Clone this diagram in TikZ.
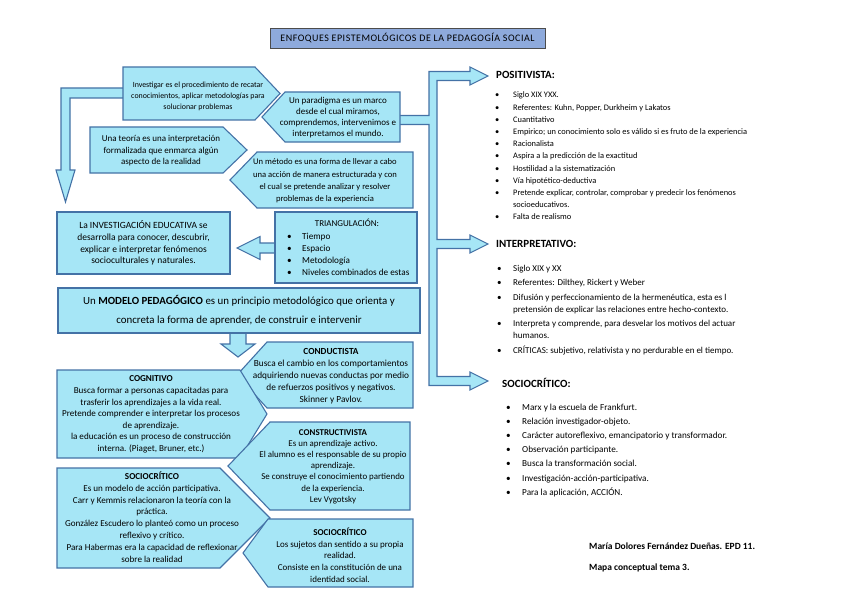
\documentclass[tikz,border=0pt]{standalone}
\usepackage{fontspec}
\setmainfont{Carlito}
\usetikzlibrary{positioning}
\definecolor{boxfill}{RGB}{166,230,246}
\definecolor{boxline}{RGB}{68,114,166}
\definecolor{titlefill}{RGB}{142,170,220}
\tikzset{
    shapebox/.style = {
        draw=boxline,
        fill=boxfill,
        line width=1.1pt,
        line join=miter
    },
    titlebox/.style = {
        draw=black!70,
        fill=titlefill,
        line width=0.6pt,
        minimum width=275pt,
        minimum height=20pt,
        font=\fontsize{10}{11}\selectfont\addfontfeature{LetterSpace=5}
    },
    txt/.style = {
        align=center,
        inner sep=0pt,
        font=\fontsize{9}{11.6}\selectfont
    },
    head/.style = {
        anchor=west,
        inner sep=0pt,
        font=\fontsize{11}{12}\selectfont\bfseries
    },
    list/.style = {
        anchor=base west,
        inner sep=0pt,
        font=\fontsize{8.4}{12.2}\selectfont
    },
}
\newcommand{\pentright}[6]{%
    \draw[shapebox] (#2,#3) -- (#4,#3) -- (#6,{(#3+#5)/2}) -- (#4,#5) -- (#2,#5) -- cycle;
    \coordinate (#1) at (#6,{(#3+#5)/2});
}
\newcommand{\pentleft}[6]{%
    \draw[shapebox] (#2,#3) -- (#4,#3) -- (#4,#5) -- (#2,#5) -- (#6,{(#3+#5)/2}) -- cycle;
    \coordinate (#1) at (#6,{(#3+#5)/2});
}

\begin{document}
\begin{tikzpicture}[x=1pt, y=-1pt]
    \useasboundingbox (0,0) rectangle (848,599);

    \node[titlebox] (title) at (407.5,38) {ENFOQUES EPISTEMOLÓGICOS DE LA PEDAGOGÍA SOCIAL};

    % flechas de bloque
    \draw[shapebox] (128,88) -- (61,88) -- (61,170) -- (56,170) -- (65.5,202) -- (75,170)
        -- (70,170) -- (70,98) -- (128,98) -- cycle;
    \draw[shapebox] (429,71.5) -- (470,71.5) -- (470,67) -- (488,76) -- (470,85) -- (470,80.5)
        -- (437,80.5) -- (437,239.5) -- (470,239.5) -- (470,235) -- (488,244) -- (470,253)
        -- (470,248.5) -- (437,248.5) -- (437,376.5) -- (470,376.5) -- (470,372) -- (488,381)
        -- (470,390) -- (470,385.5) -- (429,385.5) -- (429,124.5) -- (395,124.5) -- (395,115.5)
        -- (429,115.5) -- cycle;
    \draw[shapebox] (280,243) -- (260,243) -- (260,236.5) -- (237,248) -- (260,259.5)
        -- (260,253) -- (280,253) -- cycle;
    \draw[shapebox] (230,328) -- (230,344) -- (221,344) -- (238,357) -- (255,344)
        -- (246,344) -- (246,328) -- cycle;

    % cajas
    \pentright{invest}{123}{67}{255}{120}{280}
    \pentleft{parad}{285}{92}{400}{142}{262}
    \pentright{teoria}{90}{127}{223}{173}{247}
    \pentleft{metodo}{257}{152}{413}{208}{230}
    \pentleft{conduct}{267}{342}{413}{408}{237}
    \pentright{cognit}{57}{370}{240}{458}{267}
    \pentleft{construct}{270}{422}{410}{510}{228}
    \pentright{socizq}{57}{468}{220}{568}{270}
    \pentleft{socder}{268}{519}{413}{587}{243}

    \node[shapebox, txt, minimum width=173pt, minimum height=62pt, font=\fontsize{9.5}{11.7}\selectfont]
        (inveduc) at (143.5,243)
        {La INVESTIGACIÓN EDUCATIVA se\\desarrolla para conocer, descubrir,\\explicar e interpretar fenómenos\\socioculturales y naturales.};
    \node[shapebox, minimum width=142pt, minimum height=71pt, inner sep=0pt] (triang) at (346,247.5) {};
    \node[shapebox, align=center, inner sep=0pt, minimum width=362pt, minimum height=45pt,
        font=\fontsize{10.9}{19}\selectfont] (modelo) at (239,310.5)
        {Un \textbf{MODELO PEDAGÓGICO} es un principio metodológico que orienta y\\concreta la forma de aprender, de construir e intervenir};

    % textos
    \node[txt, font=\fontsize{7.9}{11}\selectfont] (investtxt) at (198,96)
        {Investigar es el procedimiento de recatar\\conocimientos, aplicar metodologías para\\solucionar problemas};
    \node[txt, font=\fontsize{9}{11}\selectfont] (paradtxt) at (338,117.5)
        {Un paradigma es un marco\\desde el cual miramos,\\comprendemos, intervenimos e\\interpretamos el mundo.};
    \node[txt] (teoriatxt) at (161,151)
        {Una teoría es una interpretación\\formalizada que enmarca algún\\aspecto de la realidad};
    \node[txt, font=\fontsize{8.6}{12.3}\selectfont] (metodotxt) at (325,181)
        {Un método es una forma de llevar a cabo\\una acción de manera estructurada y con\\el cual se pretende analizar y resolver\\problemas de la experiencia};
    \node[txt] (triangtit) at (347,223) {TRIANGULACIÓN:};
    \node[list, font=\fontsize{9.2}{12}\selectfont] (trianglist) at (287,239)
        {\begin{tabular}[t]{@{}p{15pt}@{}l@{}}
            \textbullet & Tiempo\\
            \textbullet & Espacio\\
            \textbullet & Metodología\\
            \textbullet & Niveles combinados de estas
        \end{tabular}};
    \node[txt, font=\fontsize{9.3}{12}\selectfont] (conducttxt) at (331,376)
        {\textbf{CONDUCTISTA}\\Busca el cambio en los comportamientos\\adquiriendo nuevas conductas por medio\\de refuerzos positivos y negativos.\\Skinner y Pavlov.};
    \node[txt, font=\fontsize{9.1}{11.6}\selectfont] (cognittxt) at (151,414.5)
        {\textbf{COGNITIVO}\\Busca formar a personas capacitadas para\\trasferir los aprendizajes a la vida real.\\Pretende comprender e interpretar los procesos\\de aprendizaje.\\la educación es un proceso de construcción\\interna. (Piaget, Bruner, etc.)};
    \node[txt, font=\fontsize{8.9}{11.2}\selectfont] (constructtxt) at (333,466.5)
        {\textbf{CONSTRUCTIVISTA}\\Es un aprendizaje activo.\\El alumno es el responsable de su propio\\aprendizaje.\\Se construye el conocimiento partiendo\\de la experiencia.\\Lev Vygotsky};
    \node[txt, font=\fontsize{9.1}{11.8}\selectfont] (socizqtxt) at (152,517)
        {\textbf{SOCIOCRÍTICO}\\Es un modelo de acción participativa.\\Carr y Kemmis relacionaron la teoría con la\\práctica.\\González Escudero lo planteó como un proceso\\reflexivo y crítico.\\Para Habermas era la capacidad de reflexionar\\sobre la realidad};
    \node[txt, font=\fontsize{9}{11.7}\selectfont] (socdertxt) at (340,555)
        {\textbf{SOCIOCRÍTICO}\\Los sujetos dan sentido a su propia\\realidad.\\Consiste en la constitución de una\\identidad social.};

    % columna derecha
    \node[head] (positivista) at (496,75) {POSITIVISTA:};
    \node[list] (posilist) at (495,98)
        {\begin{tabular}[t]{@{}p{18pt}@{}l@{}}
            \textbullet & Siglo XIX YXX.\\
            \textbullet & Referentes: Kuhn, Popper, Durkheim y Lakatos\\
            \textbullet & Cuantitativo\\
            \textbullet & Empirico; un conocimiento solo es válido si es fruto de la experiencia\\
            \textbullet & Racionalista\\
            \textbullet & Aspira a la predicción de la exactitud\\
            \textbullet & Hostilidad a la sistematización\\
            \textbullet & Vía hipotético-deductiva\\
            \textbullet & Pretende explicar, controlar, comprobar y predecir los fenómenos\\
                        & socioeducativos.\\
            \textbullet & Falta de realismo
        \end{tabular}};
    \node[head] (interpretativo) at (496,244) {INTERPRETATIVO:};
    \node[list, font=\fontsize{9}{12}\selectfont] (interlist) at (497,271)
        {\begin{tabular}[t]{@{}p{16pt}@{}l@{}}
            \textbullet & Siglo XIX y XX\\[2.5pt]
            \textbullet & Referentes: Dilthey, Rickert y Weber\\[2.5pt]
            \textbullet & Difusión y perfeccionamiento de la hermenéutica, esta es l\\
                        & pretensión de explicar las relaciones entre hecho-contexto.\\[2.5pt]
            \textbullet & Interpreta y comprende, para desvelar los motivos del actuar\\
                        & humanos.\\[2.5pt]
            \textbullet & CRÍTICAS: subjetivo, relativista y no perdurable en el tiempo.
        \end{tabular}};
    \node[head] (sociocritico) at (502,383) {SOCIOCRÍTICO:};
    \node[list, font=\fontsize{9.2}{14.2}\selectfont] (socilist) at (506,410)
        {\begin{tabular}[t]{@{}p{16pt}@{}l@{}}
            \textbullet & Marx y la escuela de Frankfurt.\\
            \textbullet & Relación investigador-objeto.\\
            \textbullet & Carácter autoreflexivo, emancipatorio y transformador.\\
            \textbullet & Observación participante.\\
            \textbullet & Busca la transformación social.\\
            \textbullet & Investigación-acción-participativa.\\
            \textbullet & Para la aplicación, ACCIÓN.
        \end{tabular}};

    \node[head, font=\fontsize{9.5}{10}\selectfont\bfseries] (autora) at (589,546) {María Dolores Fernández Dueñas. EPD 11.};
    \node[head, font=\fontsize{9.5}{10}\selectfont\bfseries] (tema) at (589,568) {Mapa conceptual tema 3.};
\end{tikzpicture}
\end{document}
